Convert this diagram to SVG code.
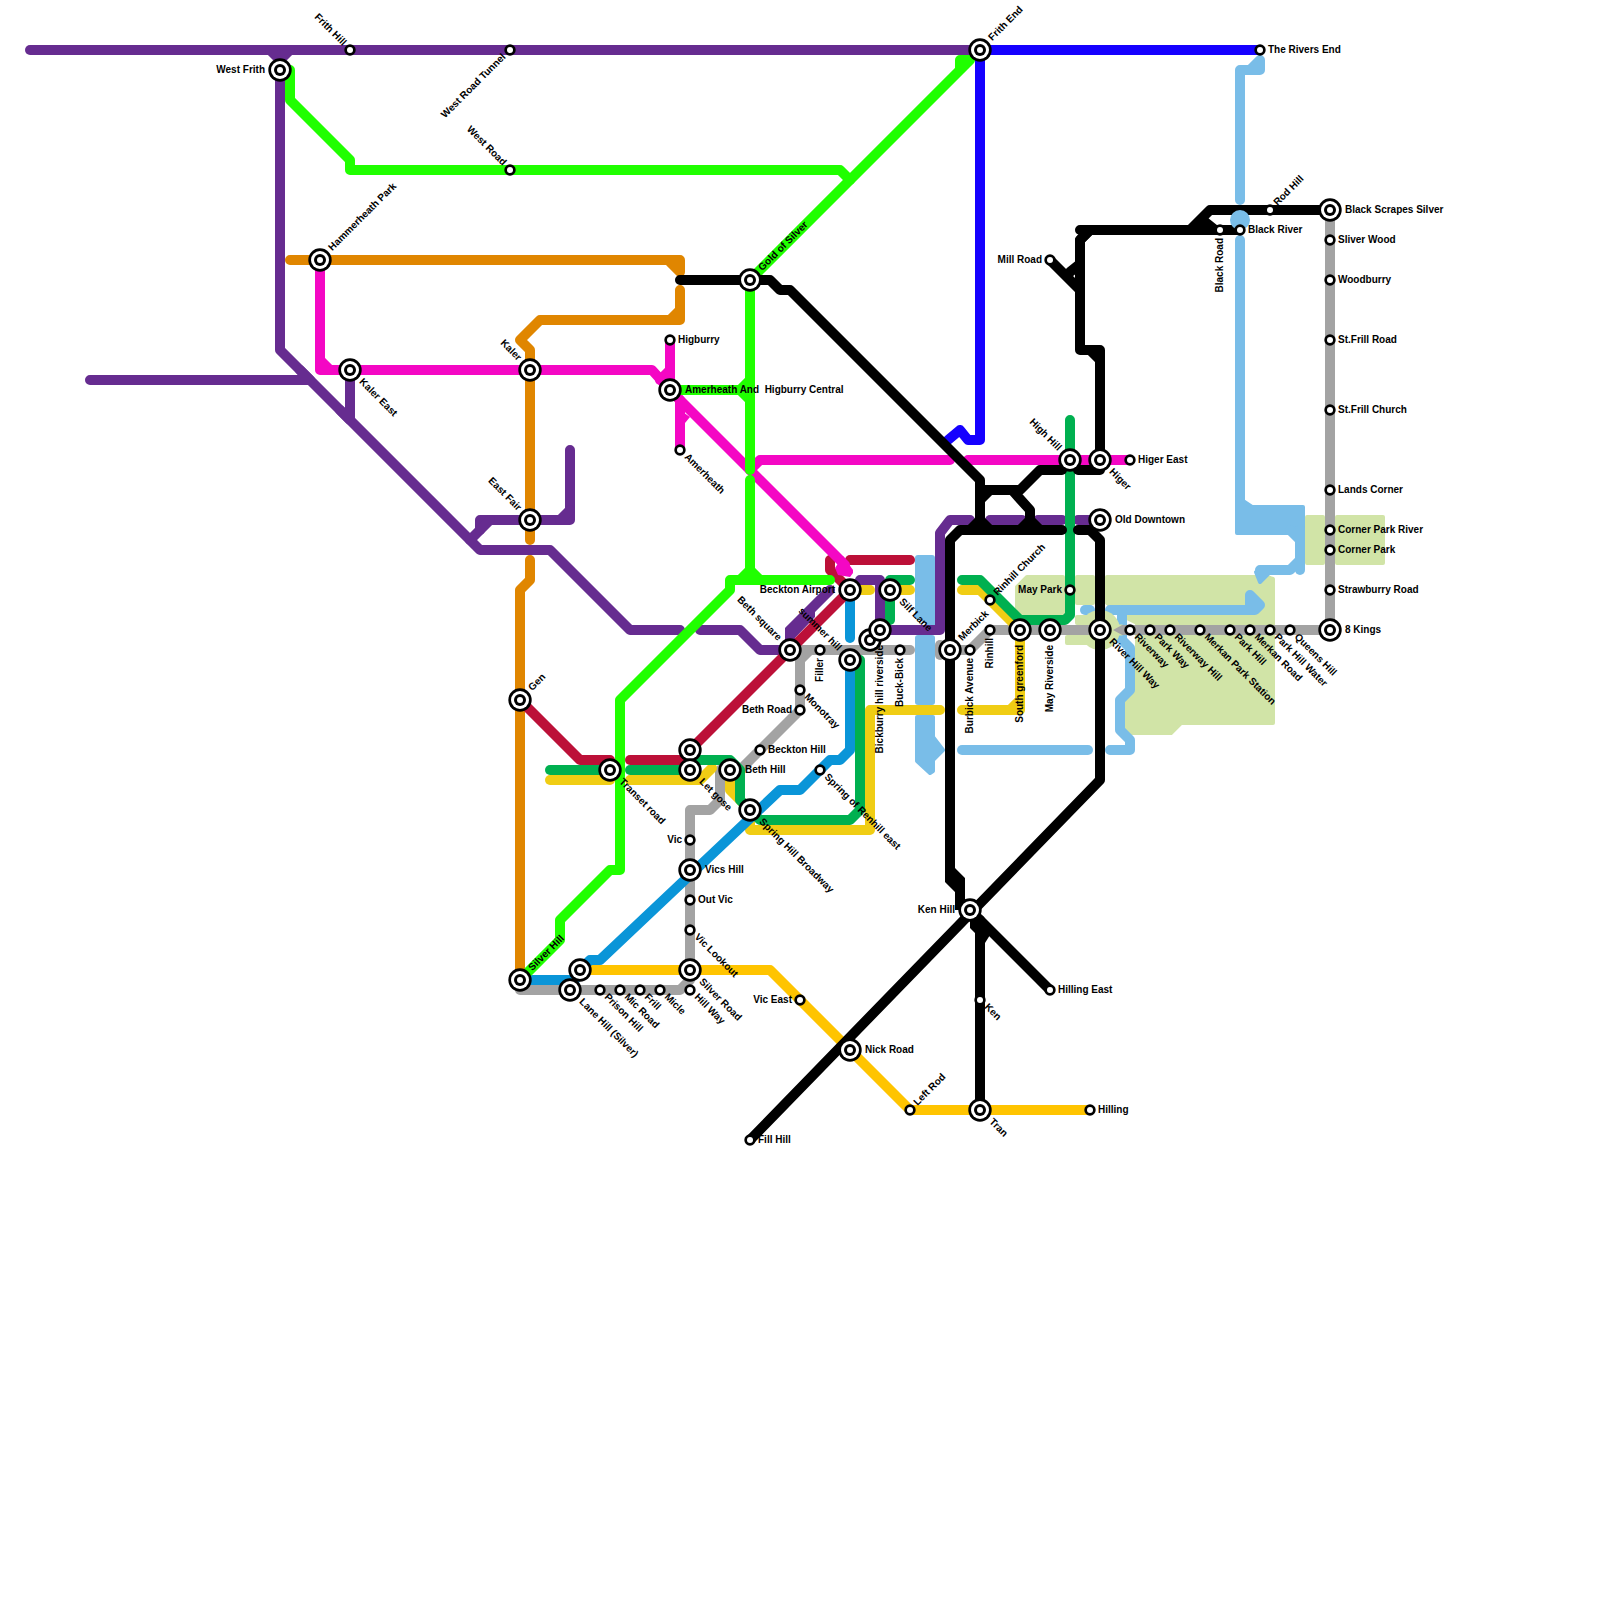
<svg xmlns="http://www.w3.org/2000/svg" width="1600" height="1600" viewBox="0 0 1600 1600">
<style>
text{font-family:"Liberation Sans",Arial,sans-serif;font-size:10px;font-weight:700;fill:#000;white-space:pre}
.e{text-anchor:end}
.l{fill:none;stroke-width:10;stroke-linecap:round;stroke-linejoin:round}
.pu{stroke:#662C90}.ma{stroke:#F407C4}.gr{stroke:#20FF00}.g2{stroke:#00B050}.bl{stroke:#1500FF}.cy{stroke:#0A95D8}.or{stroke:#E08600}.re{stroke:#BC1038}.ye{stroke:#F0CD14}.am{stroke:#FFC400}.gy{stroke:#A3A3A3}.bk{stroke:#000}.lb{stroke:#79BDE8}
.pale{fill:#D1E4A7;stroke:#D1E4A7;stroke-width:4;stroke-linejoin:round}
.lbf{fill:#79BDE8;stroke:#79BDE8;stroke-width:4;stroke-linejoin:round}
</style>
<defs>
<g id="ix"><circle r="11.7" fill="#000"/><circle r="9" fill="#fff"/><circle r="6" fill="#000"/><circle r="3" fill="#fff"/></g>
<g id="st"><circle r="5.7" fill="#000"/><circle r="3" fill="#fff"/></g>
</defs>
<g id="land">
<polygon class="pale" points="1027,577 1063,577 1063,613 1017,613 1017,587"/>
<rect class="pale" x="1077" y="577" width="16" height="26"/>
<rect class="pale" x="1077" y="617" width="16" height="6"/>
<rect class="pale" x="1067" y="637" width="26" height="6"/>
<polygon class="pale" points="1107,577 1255,577 1260,584 1267,577 1273,579 1273,723 1181,723 1171,733 1127,733 1127,696 1137,686 1137,623 1125,617 1107,603"/>
<rect class="pale" x="1307" y="517" width="16" height="46"/>
<rect class="pale" x="1337" y="517" width="46" height="46"/>
</g>
<g id="water">
<polyline class="l lb" points="1240,200 1240,70 1250,70 1260,60 1260,70 1250,70"/>
<polyline class="l lb" points="1240,240 1240,530"/>
<polygon class="lbf" points="1237,497 1252,507 1303,507 1303,533 1237,533"/>
<polyline class="l lb" points="1290,530 1300,540 1300,560 1290,570 1260,570"/>
<polyline class="l lb" points="1300,530 1300,570"/>
<polygon class="lbf" points="1256,572 1270,572 1260,582"/>
<polyline class="l lb" points="1110,610 1255,610 1260,605 1250,595 1250,610"/>
<polyline class="l lb" points="1085,610 1090,610"/>
<polyline class="l lb" points="1122,610 1122,640 1130,648 1130,690 1120,700 1120,730 1130,740 1130,750 1110,750"/>
<polyline class="l lb" points="962,750 1088,750"/>
<rect x="915" y="555" width="20" height="65" rx="3" fill="#79BDE8"/>
<polygon fill="#79BDE8" points="915,615 935,615 935,630 930,628"/>
<rect x="915" y="635" width="20" height="70" rx="3" fill="#79BDE8"/>
<polygon class="lbf" points="917,717 933,717 933,737 943,750 933,760 933,771 930,773 917,761"/>
<circle cx="1100" cy="630" r="20" fill="#D1E4A7"/>
</g>
<g id="connectors">
<g class="l pu">
<polyline points="30,50 980,50"/>
<polyline points="270,50 280,60 290,50"/>
<polyline points="280,70 280,350 480,550 550,550 630,630 680,630"/>
<polyline points="90,380 310,380 300,370"/>
<polyline points="350,370 350,420 340,410"/>
<polyline points="470,540 480,530 480,520 570,520 570,450"/>
<polyline points="480,530 490,520"/>
<polyline points="560,520 570,510"/>
<polyline points="700,630 740,630 760,650 790,650 790,630 830,590"/>
<polygon points="785,628 785,640 793,640 815,617 815,605" fill="#662C90" stroke="none"/>
<polyline points="860,580 880,580 880,630 940,630 940,533 950,520 970,520"/>
<polyline points="990,520 1022,520"/>
<polyline points="1038,520 1062,520"/>
<polyline points="1078,520 1100,520"/>
</g>
<g class="l or">
<polyline points="290,260 680,260 680,272 670,262"/>
<polyline points="680,290 680,320 540,320 520,340 530,350 530,540"/>
<polyline points="670,320 680,310"/>
<polyline points="530,560 530,580 520,590 520,980"/>
</g>
<g class="l gy">
<polyline points="520,990 680,990 690,980 690,810 710,810 720,800 720,770 740,770 800,710 800,660 810,650"/>
<polyline points="790,650 910,650"/>
<polyline points="940,645 940,655"/>
<polyline points="940,650 970,650 990,630 1330,630"/>
<polyline points="1330,210 1330,630"/>
</g>
<g class="l am">
<polyline points="575,970 770,970 910,1110 1090,1110"/>
</g>
<g class="l ye">
<polyline points="550,780 610,780"/>
<polyline points="630,780 700,780 712,768"/>
<polyline points="730,770 730,790 750,810 750,830 870,830 870,710 940,710"/>
<polyline points="850,590 870,590"/>
<polyline points="890,590 910,590"/>
<polyline points="962,590 980,590 1020,630"/>
<polyline points="1020,630 1020,710 962,710"/>
<polyline points="1010,710 1020,700"/>
</g>
<g class="l g2">
<polyline points="550,770 610,770"/>
<polyline points="630,770 690,770"/>
<polyline points="690,760 730,760 740,770 740,800 760,820 850,820 860,810 860,660"/>
<polyline points="880,630 865,645"/>
<polyline points="890,590 890,620"/>
<polyline points="890,580 910,580"/>
<polyline points="962,580 980,580 1020,620 1065,620 1070,615 1070,420"/>
</g>
<g class="l cy">
<polyline points="520,980 575,980"/>
<polyline points="580,970 590,960 600,960 780,790 800,790 830,760 840,760 850,750 850,660"/>
<polyline points="850,600 850,638"/>
</g>
<g class="l re">
<polyline points="520,700 580,760 610,760"/>
<polyline points="630,760 690,760"/>
<polyline points="690,750 850,590"/>
<polyline points="830,560 830,570 850,590"/>
<polyline points="850,560 910,560"/>
</g>
<g class="l ma">
<polyline points="320,260 320,370 350,370"/>
<polyline points="320,360 330,370"/>
<polyline points="350,370 652,370 670,390 845,565"/>
<polyline points="660,380 670,370"/>
<polyline points="670,340 670,390"/>
<polygon points="835,568 838,575 850,577 853,573 853,570 843,556" fill="#F407C4" stroke="none"/>
<polyline points="670,390 680,400 680,450"/>
<polygon points="680,410 690,417 685,423 680,425" fill="#F407C4" stroke="none"/>
<polyline points="750,470 760,460 950,460"/>
<polyline points="968,460 1130,460"/>
</g>
<g class="l gr">
<polyline points="290,70 290,100 350,160 350,170 840,170 850,180"/>
<polyline points="750,280 960,70 960,60 970,60 960,70"/>
<polyline points="750,280 750,470"/>
<polyline points="750,480 750,570"/>
<polyline points="740,580 750,570 760,580"/>
<polyline points="830,580 730,580 730,590 620,700 620,870 610,870 560,920 560,940 520,980"/>
<polyline points="670,390 750,390"/>
<polyline points="740,390 750,380"/>
<polyline points="740,390 750,400"/>
</g>
<g class="l bl">
<polyline points="980,50 1260,50"/>
<polyline points="980,50 980,440 968,440 960,430 948,440"/>
</g>
<g class="l bk">
<polyline points="680,280 770,280 780,290 790,290 980,480 980,530"/>
<polyline points="980,490 1020,490 1040,470 1062,470"/>
<polyline points="980,500 990,490"/>
<polyline points="1078,470 1100,470 1100,350 1080,350 1080,240 1090,230 1240,230"/>
<polyline points="1090,350 1100,360"/>
<polyline points="1080,230 1090,230 1080,240"/>
<polyline points="1190,230 1210,210 1330,210"/>
<polyline points="1205,222 1215,230"/>
<polyline points="1012,490 1030,510 1030,530"/>
<polyline points="1020,530 1030,520 1040,530"/>
<polyline points="970,530 980,520 990,530"/>
<polyline points="1062,530 960,530 950,540 950,865"/>
<polygon points="945,860 955,860 955,868 965,878 965,910 955,910 955,892 945,882" fill="#000" stroke="none"/>
<polyline points="960,905 970,910"/>
<polyline points="1078,530 1090,530 1100,540 1100,780 750,1140"/>
<polyline points="970,910 1050,990"/>
<polyline points="980,920 980,1110"/>
<polygon points="970,915 990,935 985,943 985,950 975,950 975,933 970,928" fill="#000" stroke="none"/>
<polyline points="1050,260 1080,290"/>
<polyline points="1070,272 1080,264"/>
</g>
<circle cx="1240" cy="220" r="10" fill="#79BDE8"/>
<path d="M1108,624.500 L1123,624.500 L1113,630 L1123,635.500 L1108,635.500 Z" fill="#D1E4A7"/>
</g>
<g id="n01"><use href="#ix" x="280" y="70"/><text class="e" x="265" y="72.500">West Frith</text></g>
<g id="n02"><use href="#st" x="350" y="50"/><text class="e" transform="translate(350 50) rotate(45)" x="-8" y="2.500">Frith Hill</text></g>
<g id="n03"><use href="#st" x="510" y="50"/><text class="e" transform="translate(510 50) rotate(-45)" x="-8" y="2.500">West Road Tunnel</text></g>
<g id="n04"><use href="#st" x="510" y="170"/><text class="e" transform="translate(510 170) rotate(45)" x="-8" y="2.500">West Road</text></g>
<g id="n05"><use href="#ix" x="980" y="50"/><text transform="translate(980 50) rotate(-45)" x="15" y="2.500">Frith End</text></g>
<g id="n06"><use href="#st" x="1260" y="50"/><text x="1268" y="52.500">The Rivers End</text></g>
<g id="n07"><use href="#ix" x="320" y="260"/><text transform="translate(320 260) rotate(-45)" x="15" y="2.500">Hammerheath Park</text></g>
<g id="n08"><use href="#ix" x="350" y="370"/><text transform="translate(350 370) rotate(45)" x="15" y="2.500">Kaler East</text></g>
<g id="n09"><use href="#ix" x="530" y="370"/><text class="e" transform="translate(530 370) rotate(45)" x="-15" y="2.500">Kaler</text></g>
<g id="n10"><use href="#ix" x="530" y="520"/><text class="e" transform="translate(530 520) rotate(45)" x="-15" y="2.500">East Fair</text></g>
<g id="n11"><use href="#st" x="670" y="340"/><text x="678" y="342.500">Higburry</text></g>
<g id="n12"><use href="#ix" x="670" y="390"/><text x="685" y="392.500">Amerheath And  Higburry Central</text></g>
<g id="n13"><use href="#st" x="680" y="450"/><text transform="translate(680 450) rotate(45)" x="8" y="2.500">Amerheath</text></g>
<g id="n14"><use href="#ix" x="750" y="280"/><text transform="translate(750 280) rotate(-45)" x="15" y="2.500">Gold of Silver</text></g>
<g id="n15"><use href="#st" x="1050" y="260"/><text class="e" x="1042" y="262.500">Mill Road</text></g>
<g id="n16"><use href="#st" x="1270" y="210"/><text transform="translate(1270 210) rotate(-45)" x="8" y="2.500">Rod Hill</text></g>
<g id="n17"><use href="#ix" x="1330" y="210"/><text x="1345" y="212.500">Black Scrapes Silver</text></g>
<g id="n18"><use href="#st" x="1220" y="230"/><text class="e" transform="translate(1220 230) rotate(-90)" x="-8" y="2.500">Black Road</text></g>
<g id="n19"><use href="#st" x="1240" y="230"/><text x="1248" y="232.500">Black River</text></g>
<g id="n20"><use href="#st" x="1330" y="240"/><text x="1338" y="242.500">Sliver Wood</text></g>
<g id="n21"><use href="#st" x="1330" y="280"/><text x="1338" y="282.500">Woodburry</text></g>
<g id="n22"><use href="#st" x="1330" y="340"/><text x="1338" y="342.500">St.Frill Road</text></g>
<g id="n23"><use href="#st" x="1330" y="410"/><text x="1338" y="412.500">St.Frill Church</text></g>
<g id="n24"><use href="#st" x="1330" y="490"/><text x="1338" y="492.500">Lands Corner</text></g>
<g id="n25"><use href="#st" x="1330" y="530"/><text x="1338" y="532.500">Corner Park River</text></g>
<g id="n26"><use href="#st" x="1330" y="550"/><text x="1338" y="552.500">Corner Park</text></g>
<g id="n27"><use href="#st" x="1330" y="590"/><text x="1338" y="592.500">Strawburry Road</text></g>
<g id="n28"><use href="#ix" x="1330" y="630"/><text x="1345" y="632.500">8 Kings</text></g>
<g id="n29"><use href="#ix" x="1070" y="460"/><text class="e" transform="translate(1070 460) rotate(45)" x="-15" y="2.500">High Hill</text></g>
<g id="n30"><use href="#ix" x="1100" y="460"/><text transform="translate(1100 460) rotate(45)" x="15" y="2.500">Higer</text></g>
<g id="n31"><use href="#st" x="1130" y="460"/><text x="1138" y="462.500">Higer East</text></g>
<g id="n32"><use href="#ix" x="1100" y="520"/><text x="1115" y="522.500">Old Downtown</text></g>
<g id="n33"><use href="#st" x="1070" y="590"/><text class="e" x="1062" y="592.500">May Park</text></g>
<g id="n34"><use href="#ix" x="1100" y="630"/><text transform="translate(1100 630) rotate(45)" x="15" y="2.500">River Hill Way</text></g>
<g id="n35"><use href="#ix" x="1050" y="630"/><text class="e" transform="translate(1050 630) rotate(-90)" x="-15" y="2.500">May Riverside</text></g>
<g id="n36"><use href="#ix" x="1020" y="630"/><text class="e" transform="translate(1020 630) rotate(-90)" x="-15" y="2.500">South greenford</text></g>
<g id="n37"><use href="#st" x="990" y="630"/><text class="e" transform="translate(990 630) rotate(-90)" x="-8" y="2.500">Rinhill</text></g>
<g id="n38"><use href="#st" x="990" y="600"/><text transform="translate(990 600) rotate(-45)" x="8" y="2.500">Rinhill Church</text></g>
<g id="n39"><use href="#st" x="970" y="650"/><text class="e" transform="translate(970 650) rotate(-90)" x="-8" y="2.500">Burbick Avenue</text></g>
<g id="n40"><use href="#ix" x="950" y="650"/><text transform="translate(950 650) rotate(-45)" x="15" y="2.500">Merbick</text></g>
<g id="n41"><use href="#st" x="900" y="650"/><text class="e" transform="translate(900 650) rotate(-90)" x="-8" y="2.500">Buck-Bick</text></g>
<g id="n42"><use href="#ix" x="890" y="590"/><text transform="translate(890 590) rotate(45)" x="15" y="2.500">Silf Lane</text></g>
<g id="n43"><use href="#ix" x="850" y="590"/><text class="e" x="835" y="592.500">Beckton Airport</text></g>
<g id="n44"><use href="#ix" x="870" y="640"/></g>
<g id="n45"><use href="#ix" x="880" y="630"/><text class="e" transform="translate(880 630) rotate(-90)" x="-15" y="2.500">Bickburry hill riverside</text></g>
<g id="n46"><use href="#ix" x="850" y="660"/><text class="e" transform="translate(850 660) rotate(45)" x="-15" y="2.500">summer hill</text></g>
<g id="n47"><use href="#ix" x="790" y="650"/><text class="e" transform="translate(790 650) rotate(45)" x="-15" y="2.500">Beth square</text></g>
<g id="n48"><use href="#st" x="820" y="650"/><text class="e" transform="translate(820 650) rotate(-90)" x="-8" y="2.500">Filler</text></g>
<g id="n49"><use href="#st" x="800" y="690"/><text transform="translate(800 690) rotate(45)" x="8" y="2.500">Monotray</text></g>
<g id="n50"><use href="#st" x="800" y="710"/><text class="e" x="792" y="712.500">Beth Road</text></g>
<g id="n51"><use href="#st" x="760" y="750"/><text x="768" y="752.500">Beckton Hill</text></g>
<g id="n52"><use href="#ix" x="730" y="770"/><text x="745" y="772.500">Beth Hill</text></g>
<g id="n53"><use href="#st" x="820" y="770"/><text transform="translate(820 770) rotate(45)" x="8" y="2.500">Spring of Renhill east</text></g>
<g id="n54"><use href="#ix" x="750" y="810"/><text transform="translate(750 810) rotate(45)" x="15" y="2.500">Spring Hill Broadway</text></g>
<g id="n55"><use href="#ix" x="690" y="750"/></g>
<g id="n56"><use href="#ix" x="690" y="770"/><text transform="translate(690 770) rotate(45)" x="15" y="2.500">Let gose</text></g>
<g id="n57"><use href="#ix" x="610" y="770"/><text transform="translate(610 770) rotate(45)" x="15" y="2.500">Transet road</text></g>
<g id="n58"><use href="#ix" x="520" y="700"/><text transform="translate(520 700) rotate(-45)" x="15" y="2.500">Gen</text></g>
<g id="n59"><use href="#st" x="690" y="840"/><text class="e" x="682" y="842.500">Vic</text></g>
<g id="n60"><use href="#ix" x="690" y="870"/><text x="705" y="872.500">Vics Hill</text></g>
<g id="n61"><use href="#st" x="690" y="900"/><text x="698" y="902.500">Out Vic</text></g>
<g id="n62"><use href="#st" x="690" y="930"/><text transform="translate(690 930) rotate(45)" x="8" y="2.500">Vic Lookout</text></g>
<g id="n63"><use href="#ix" x="690" y="970"/><text transform="translate(690 970) rotate(45)" x="15" y="2.500">Silver Road</text></g>
<g id="n64"><use href="#st" x="690" y="990"/><text transform="translate(690 990) rotate(45)" x="8" y="2.500">Hill Way</text></g>
<g id="n65"><use href="#st" x="660" y="990"/><text transform="translate(660 990) rotate(45)" x="8" y="2.500">Micle</text></g>
<g id="n66"><use href="#st" x="640" y="990"/><text transform="translate(640 990) rotate(45)" x="8" y="2.500">Frill</text></g>
<g id="n67"><use href="#st" x="620" y="990"/><text transform="translate(620 990) rotate(45)" x="8" y="2.500">Mic Road</text></g>
<g id="n68"><use href="#st" x="600" y="990"/><text transform="translate(600 990) rotate(45)" x="8" y="2.500">Prison Hill</text></g>
<g id="n69"><use href="#ix" x="570" y="990"/><text transform="translate(570 990) rotate(45)" x="15" y="2.500">Lane Hill (Silver)</text></g>
<g id="n70"><use href="#ix" x="580" y="970"/></g>
<g id="n71"><use href="#ix" x="520" y="980"/><text transform="translate(520 980) rotate(-45)" x="15" y="2.500">Silver Hill</text></g>
<g id="n72"><use href="#st" x="800" y="1000"/><text class="e" x="792" y="1002.500">Vic East</text></g>
<g id="n73"><use href="#ix" x="850" y="1050"/><text x="865" y="1052.500">Nick Road</text></g>
<g id="n74"><use href="#ix" x="970" y="910"/><text class="e" x="955" y="912.500">Ken Hill</text></g>
<g id="n75"><use href="#st" x="980" y="1000"/><text transform="translate(980 1000) rotate(45)" x="8" y="2.500">Ken</text></g>
<g id="n76"><use href="#st" x="1050" y="990"/><text x="1058" y="992.500">Hilling East</text></g>
<g id="n77"><use href="#ix" x="980" y="1110"/><text transform="translate(980 1110) rotate(45)" x="15" y="2.500">Tran</text></g>
<g id="n78"><use href="#st" x="1090" y="1110"/><text x="1098" y="1112.500">Hilling</text></g>
<g id="n79"><use href="#st" x="910" y="1110"/><text transform="translate(910 1110) rotate(-45)" x="8" y="2.500">Left Rod</text></g>
<g id="n80"><use href="#st" x="750" y="1140"/><text x="758" y="1142.500">Fill Hill</text></g>
<g id="n81"><use href="#st" x="1130" y="630"/><text transform="translate(1130 630) rotate(45)" x="8" y="2.500">Riverway</text></g>
<g id="n82"><use href="#st" x="1150" y="630"/><text transform="translate(1150 630) rotate(45)" x="8" y="2.500">Park Way</text></g>
<g id="n83"><use href="#st" x="1170" y="630"/><text transform="translate(1170 630) rotate(45)" x="8" y="2.500">Riverway Hill</text></g>
<g id="n84"><use href="#st" x="1200" y="630"/><text transform="translate(1200 630) rotate(45)" x="8" y="2.500">Merkan Park Station</text></g>
<g id="n85"><use href="#st" x="1230" y="630"/><text transform="translate(1230 630) rotate(45)" x="8" y="2.500">Park Hill</text></g>
<g id="n86"><use href="#st" x="1250" y="630"/><text transform="translate(1250 630) rotate(45)" x="8" y="2.500">Merkan Road</text></g>
<g id="n87"><use href="#st" x="1270" y="630"/><text transform="translate(1270 630) rotate(45)" x="8" y="2.500">Park Hill Water</text></g>
<g id="n88"><use href="#st" x="1290" y="630"/><text transform="translate(1290 630) rotate(45)" x="8" y="2.500">Queens Hill</text></g>
</svg>
